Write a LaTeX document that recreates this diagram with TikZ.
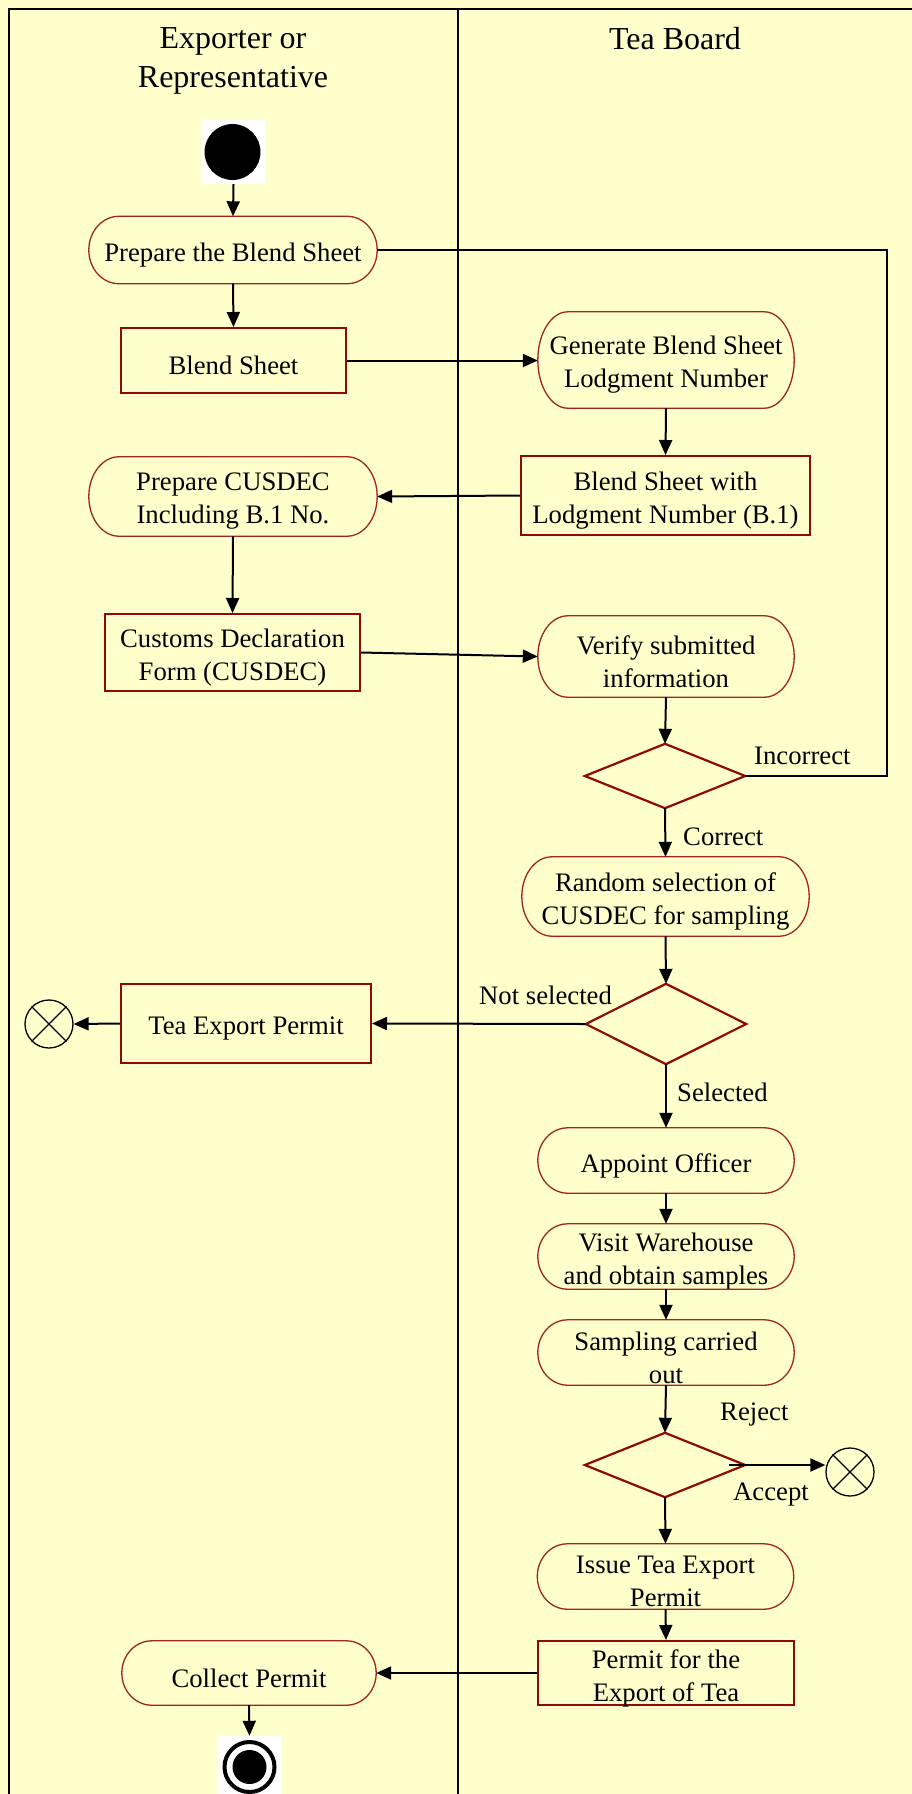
\documentclass[tikz,border=0pt]{standalone}
\usepackage{fontspec}
\setmainfont{Liberation Serif}
\usetikzlibrary{arrows.meta,calc}
\definecolor{bg}{HTML}{FFFFCC}
\definecolor{boxred}{HTML}{8E0A0A}
\definecolor{stadred}{HTML}{A02424}
\begin{document}
\begin{tikzpicture}[x=1pt,y=-1pt,
  txt/.style={font=\fontsize{26.7}{33}\selectfont, align=center, inner sep=0pt, shape=rectangle},
  intext/.style={label={[txt,yshift=-5pt]center:{#1}}},
  databox/.style={shape=rectangle, inner sep=0pt, draw=boxred, line width=2pt, fill=bg},
  stadbox/.style={shape=rectangle, inner sep=0pt},
  diabox/.style={shape=rectangle, inner sep=0pt, minimum width=160pt},
  flow/.style={draw=black, line width=2pt, -{Triangle[length=15pt,width=13pt]}},
  plain/.style={draw=black, line width=2pt},
  lbl/.style={font=\fontsize{26.7}{33}\selectfont, inner sep=0pt, anchor=base west},
  hdr/.style={font=\fontsize{32}{39}\selectfont, inner sep=0pt, anchor=base},
  ffin/.style={circle, draw=black, line width=1.3pt, minimum size=48pt, inner sep=0pt, fill=bg}
]
\useasboundingbox (0,0) rectangle (912,1794);
\fill[bg] (0,0) rectangle (912,1794);
% swimlane frame
\draw[line width=2pt] (9,1794) -- (9,8.5) -- (912,8.5);
\draw[line width=2pt] (458,8.5) -- (458,1794);
\node[hdr] (h1a) at (233,48) {Exporter or};
\node[hdr] (h1b) at (233,87) {Representative};
\node[hdr] (h2) at (675,49) {Tea Board};

% start
\node[fill=white, inner sep=0pt, minimum width=65pt, minimum height=64pt] (start) at (233.5,152) {};
\fill[black] (232.5,152) circle[radius=28pt];

% activities and objects
\node[stadbox, minimum width=288pt, minimum height=67pt, intext={Prepare the Blend Sheet}] (prep) at (233,250) {};
\node[databox, minimum width=225pt, minimum height=65pt, intext={Blend Sheet}] (bs) at (233.5,360.5) {};
\node[stadbox, minimum width=256pt, minimum height=96pt, intext={Generate Blend Sheet\\Lodgment Number}] (gen) at (666,360) {};
\node[databox, minimum width=289pt, minimum height=79pt, intext={Blend Sheet with\\Lodgment Number (B.1)}] (bsl) at (665.5,495.5) {};
\node[stadbox, minimum width=288pt, minimum height=79pt, intext={Prepare CUSDEC\\Including B.1 No.}] (pcus) at (233,496.5) {};
\node[databox, minimum width=255pt, minimum height=77pt, intext={Customs Declaration\\Form (CUSDEC)}] (cdf) at (232.5,652.5) {};
\node[stadbox, minimum width=256pt, minimum height=81pt, intext={Verify submitted\\information}] (ver) at (666,656.5) {};
\node[diabox, minimum height=64pt] (d1) at (665,776) {};
\node[stadbox, minimum width=287pt, minimum height=79pt, intext={Random selection of\\CUSDEC for sampling}] (rand) at (665.5,896.5) {};
\node[diabox, minimum height=80pt] (d2) at (666,1024) {};
\node[databox, minimum width=250pt, minimum height=79pt, intext={Tea Export Permit}] (tep) at (246,1023.5) {};
\node[ffin] (ff1) at (49,1024) {};
\node[stadbox, minimum width=256pt, minimum height=65pt, intext={Appoint Officer}] (app) at (666,1160.5) {};
\node[stadbox, minimum width=256pt, minimum height=65pt, intext={Visit Warehouse\\and obtain samples}] (visit) at (666,1256.5) {};
\node[stadbox, minimum width=256pt, minimum height=65pt, intext={Sampling carried\\out}] (samp) at (666,1352.5) {};
\node[diabox, minimum height=64pt] (d3) at (665,1465) {};
\node[ffin] (ff2) at (850,1472) {};
\node[stadbox, minimum width=256pt, minimum height=65pt, intext={Issue Tea Export\\Permit}] (issue) at (665.5,1576.5) {};
\node[databox, minimum width=256pt, minimum height=64pt, intext={Permit for the\\Export of Tea}] (pet) at (666,1673) {};
\node[stadbox, minimum width=254pt, minimum height=64pt, intext={Collect Permit}] (coll) at (249,1673) {};

% end node
\node[fill=white, inner sep=0pt, minimum width=65pt, minimum height=62pt] (end) at (249.5,1767) {};
\draw[line width=4pt] (end.center) circle[radius=25pt];
\fill[black] (end.center) circle[radius=17pt];

% stadium outlines
\foreach \s in {prep,gen,pcus,ver,rand,app,visit,samp,issue,coll}{
  \draw[draw=stadred, line width=1.3pt] let \p1=(\s.north west), \p2=(\s.south east), \n1={(\y1-\y2)/2} in
    (\x1+30pt,\y1) -- (\x2-30pt,\y1)
    arc[start angle=90, end angle=-90, x radius=30pt, y radius=\n1]
    -- (\x1+30pt,\y2)
    arc[start angle=270, end angle=90, x radius=30pt, y radius=\n1] -- cycle;
}
% diamonds
\foreach \s in {d1,d2,d3}{
  \draw[draw=boxred, line width=2.2pt] (\s.north) -- (\s.east) -- (\s.south) -- (\s.west) -- cycle;
}
% flow-final crosses
\foreach \s in {ff1,ff2}{
  \draw[line width=1.3pt] (\s.45) -- (\s.225) (\s.135) -- (\s.-45);
}

% connectors
\draw[flow] (start.south) -- (prep.north);
\draw[flow] (prep.south) -- (bs.north);
\draw[flow] (bs.east) -- (bs.east -| gen.west);
\draw[flow] (gen.south) -- (bsl.north);
\draw[flow] (bsl.west) -- (pcus.east);
\draw[flow] (pcus.south) -- (cdf.north);
\draw[flow] (cdf.east) -- (ver.west);
\draw[flow] (ver.south) -- (d1.north);
\coordinate (loopx) at (887,0);
\draw[plain] (d1.east) -| (loopx |- prep.east) -- (prep.east);
\draw[flow] (d1.south) -- (rand.north);
\draw[flow] (rand.south) -- (d2.north);
\draw[flow] (d2.west) -- (tep.east);
\draw[flow] (tep.west) -- (ff1.east);
\draw[flow] (d2.south) -- (app.north);
\draw[flow] (app.south) -- (visit.north);
\draw[flow] (visit.south) -- (samp.north);
\draw[flow] (samp.south) -- (d3.north);
\coordinate (d3r) at ($(d3.east)+(-16,0)$);
\draw[flow] (d3r) -- (d3r -| ff2.west);
\draw[flow] (d3.south) -- (issue.north);
\draw[flow] (issue.south) -- (pet.north);
\draw[flow] (pet.west) -- (coll.east);
\draw[flow] (coll.south) -- (end.north);

% labels
\node[lbl] (lincorrect) at (754,764) {Incorrect};
\node[lbl] (lcorrect) at (683,845) {Correct};
\node[lbl] (lnotsel) at (479,1004) {Not selected};
\node[lbl] (lsel) at (677,1101) {Selected};
\node[lbl] (lreject) at (720,1420) {Reject};
\node[lbl] (laccept) at (733,1500) {Accept};
\end{tikzpicture}
\end{document}
